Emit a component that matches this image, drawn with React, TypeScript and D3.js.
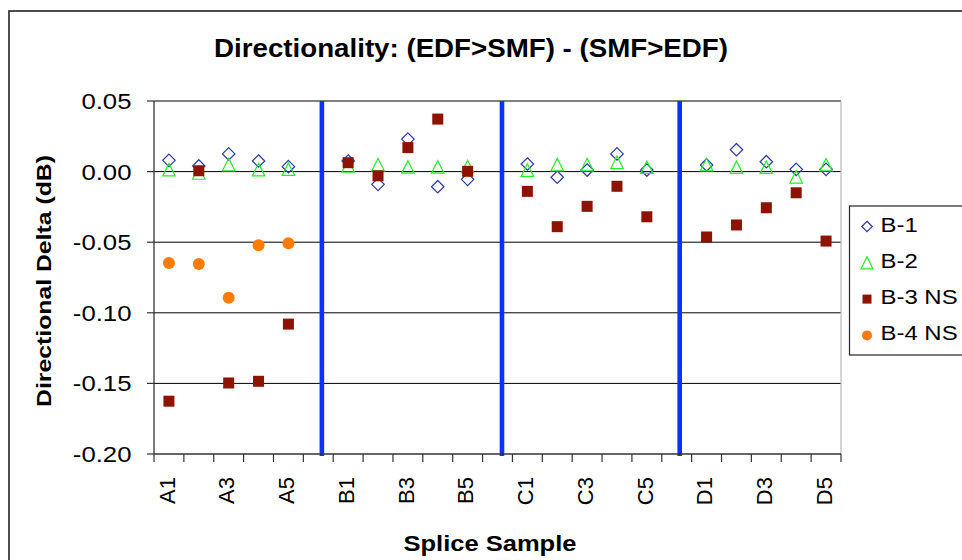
import React from "react";
import * as d3 from "d3";

const categories = [
  "A1", "A2", "A3", "A4", "A5", "",
  "B1", "B2", "B3", "B4", "B5", "",
  "C1", "C2", "C3", "C4", "C5", "",
  "D1", "D2", "D3", "D4", "D5",
];

const seriesB1 = [
  0.008, 0.004, 0.0125, 0.0075, 0.0035, null,
  0.0075, -0.009, 0.023, -0.0107, -0.0055, null,
  0.0054, -0.004, 0.0011, 0.0125, 0.0011, null,
  0.0047, 0.0155, 0.007, 0.0016, 0.0016,
];
const seriesB2 = [
  0.0014, -0.001, 0.005, 0.0014, 0.0017, null,
  0.004, 0.005, 0.0033, 0.0033, 0.0036, null,
  0.0011, 0.005, 0.005, 0.0066, 0.0031, null,
  0.005, 0.0031, 0.0031, -0.0037, 0.0049,
];
const seriesB3 = [
  -0.1626, 0.0006, -0.1497, -0.1485, -0.108, null,
  0.0063, -0.003, 0.017, 0.0372, 0.0002, null,
  -0.014, -0.039, -0.0246, -0.0104, -0.032, null,
  -0.0463, -0.0378, -0.0256, -0.015, -0.0492,
];
const seriesB4 = [
  -0.0647, -0.0654, -0.0893, -0.0522, -0.0508, null,
  null, null, null, null, null, null,
  null, null, null, null, null, null,
  null, null, null, null, null,
];

const yTicks = [0.05, 0.0, -0.05, -0.1, -0.15, -0.2];
// group separators, in category units
const dividers = [5.62, 11.65, 17.6];

const legendNames = ["B-1", "B-2", "B-3 NS", "B-4 NS"];

const W = 962;
const H = 560;
const M = { left: 154, right: 841, top: 101, bottom: 454 };

const C_DIAMOND = "#2a3aa8";
const C_TRI = "#22ee22";
const C_SQ = "#8e1200";
const C_CIRC = "#ff7c00";
const C_DIV = "#0a32ff";

const FONT = "'Liberation Sans', Arial, sans-serif";

const fmt = (t: number) => d3.format(".2f")(t).replace("\u2212", "-");

function Marker({ kind, x, y, s }: { kind: string; x: number; y: number; s: number }) {
  if (kind === "diamond") {
    const h = s / 2;
    return (
      <path
        d={`M${x},${y - h}L${x + h},${y}L${x},${y + h}L${x - h},${y}Z`}
        fill="none"
        stroke={C_DIAMOND}
        strokeWidth={1.2}
      />
    );
  }
  if (kind === "triangle") {
    const h = s / 2;
    return (
      <path
        d={`M${x},${y - h}L${x + h},${y + h}L${x - h},${y + h}Z`}
        fill="none"
        stroke={C_TRI}
        strokeWidth={1.2}
      />
    );
  }
  if (kind === "square") {
    return <rect x={x - s / 2} y={y - s / 2} width={s} height={s} fill={C_SQ} />;
  }
  return <circle cx={x} cy={y} r={s / 2} fill={C_CIRC} />;
}

function SText({
  x, y, size, sx = 1, anchor = "start", bold = false, rotate = 0, dy, children,
}: any) {
  return (
    <text
      transform={`translate(${x},${y}) rotate(${rotate}) scale(${sx},1)`}
      fontFamily={FONT}
      fontSize={size}
      fontWeight={bold ? "bold" : "normal"}
      textAnchor={anchor}
      dy={dy}
      fill="#000"
    >
      {children}
    </text>
  );
}

export default function App() {
  const n = categories.length;
  const x = d3.scaleLinear().domain([0, n]).range([M.left, M.right]);
  const y = d3.scaleLinear().domain([-0.2, 0.05]).range([M.bottom, M.top]);
  const cx = (i: number) => x(i + 0.5);

  const series = [
    { kind: "diamond", data: seriesB1, size: 12.5 },
    { kind: "triangle", data: seriesB2, size: 12.5 },
    { kind: "square", data: seriesB3, size: 11 },
    { kind: "circle", data: seriesB4, size: 12 },
  ];
  const legendSizes = [10.5, 12, 9, 10];

  return (
    <svg
      width={W}
      height={H}
      style={{ position: "absolute", left: 0, top: 0, background: "#fff" }}
    >
      <rect x={0} y={0} width={W} height={H} fill="#fff" />
      {/* chart frame */}
      <rect x={9} y={11} width={1000} height={600} fill="none" stroke="#222" strokeWidth={1.6} />

      {/* title */}
      <SText x={471} y={57} size={25} sx={1.108} anchor="middle" bold>
        Directionality: (EDF&gt;SMF) - (SMF&gt;EDF)
      </SText>

      {/* gridlines */}
      {yTicks.slice(0, -1).map((t) => (
        <line key={t} x1={M.left} x2={M.right} y1={y(t)} y2={y(t)} stroke="#000" strokeWidth={1} />
      ))}
      {/* plot right border */}
      <line x1={M.right} x2={M.right} y1={M.top} y2={M.bottom} stroke="#b8b8b8" strokeWidth={1.2} />

      {/* dividers */}
      {dividers.map((d) => (
        <line key={d} x1={x(d)} x2={x(d)} y1={M.top} y2={M.bottom + 2} stroke={C_DIV} strokeWidth={4.6} />
      ))}

      {/* y axis */}
      <line x1={M.left} x2={M.left} y1={M.top} y2={M.bottom} stroke="#333" strokeWidth={1.3} />
      {yTicks.map((t) => (
        <g key={t}>
          <line x1={M.left - 7} x2={M.left} y1={y(t)} y2={y(t)} stroke="#333" strokeWidth={1.2} />
          <SText x={131.5} y={y(t) + 8} size={22} sx={1.17} anchor="end">
            {fmt(t)}
          </SText>
        </g>
      ))}
      <SText x={50.5} y={281} size={21} sx={1.18} anchor="middle" bold rotate={-90}>
        Directional Delta (dB)
      </SText>

      {/* x axis */}
      <line x1={M.left} x2={M.right} y1={M.bottom} y2={M.bottom} stroke="#333" strokeWidth={1.3} />
      {d3.range(n + 1).map((k) => (
        <line key={k} x1={x(k)} x2={x(k)} y1={M.bottom} y2={M.bottom + 8} stroke="#333" strokeWidth={1.2} />
      ))}
      {categories.map((c, i) =>
        i % 2 === 0 ? (
          <SText key={i} x={cx(i) - 2} y={477} size={22} anchor="end" rotate={-90} dy="0.35em">
            {c}
          </SText>
        ) : null
      )}
      <SText x={490} y={551} size={22} sx={1.16} anchor="middle" bold>
        Splice Sample
      </SText>

      {/* markers */}
      {series.map((s) => (
        <g key={s.kind}>
          {s.data.map((v, i) =>
            v === null ? null : <Marker key={i} kind={s.kind} x={cx(i)} y={y(v)} s={s.size} />
          )}
        </g>
      ))}

      {/* legend */}
      <rect x={849.5} y={206} width={200} height={149} fill="#fff" stroke="#222" strokeWidth={1.2} />
      {legendNames.map((name, i) => {
        const by = 231.5 + i * 36.3;
        return (
          <g key={name}>
            <Marker kind={series[i].kind} x={867} y={by - 5} s={legendSizes[i]} />
            <SText x={880.5} y={by} size={21} sx={1.14}>
              {name}
            </SText>
          </g>
        );
      })}
    </svg>
  );
}
